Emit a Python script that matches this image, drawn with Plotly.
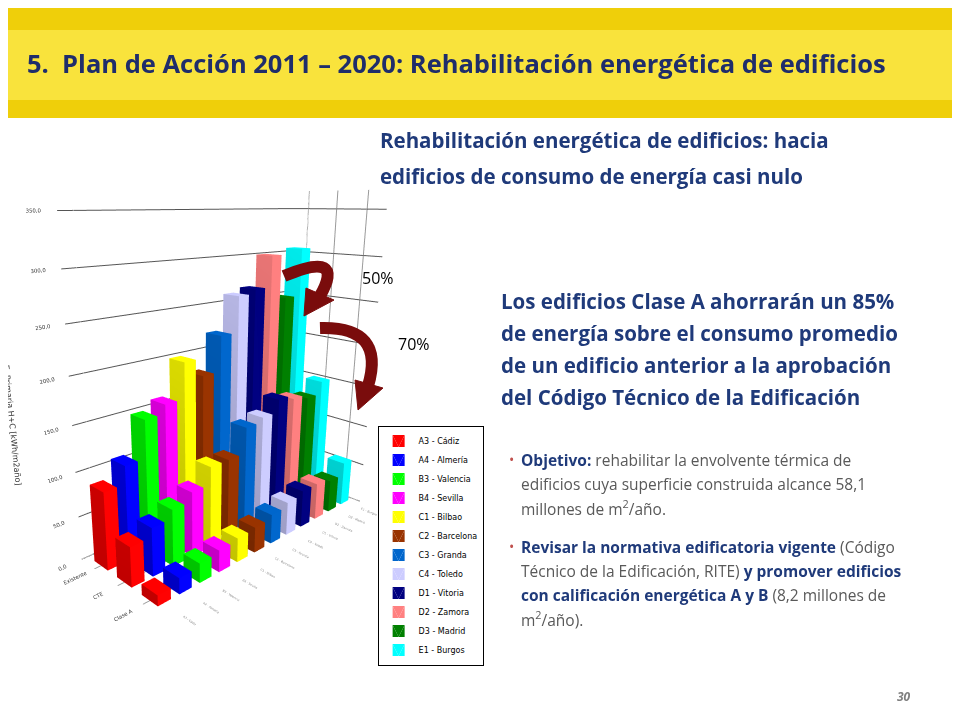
import plotly.graph_objects as go

scenarios = ["Existente", "CTE", "Clase A"]
cities = ["A3 - Cádiz", "A4 - Almería", "B3 - Valencia", "B4 - Sevilla", "C1 - Bilbao",
          "C2 - Barcelona", "C3 - Granda", "C4 - Toledo", "D1 - Vitoria", "D2 - Zamora",
          "D3 - Madrid", "E1 - Burgos"]
colors = ["#FF0000", "#0000FF", "#00FF00", "#FF00FF", "#FFFF00", "#993300",
          "#0066CC", "#CCCCFF", "#000080", "#FF8080", "#008000", "#00FFFF"]
existente = [88, 108, 150, 160, 200, 180, 220, 260, 265, 300, 250, 305]
cte = [45, 55, 65, 75, 95, 95, 125, 130, 145, 140, 135, 150]
clase_a = [12, 18, 22, 25, 28, 30, 35, 40, 45, 45, 40, 55]
zticks = [0, 50, 100, 150, 200, 250, 300, 350]
zticktext = ["0,0", "50,0", "100,0", "150,0", "200,0", "250,0", "300,0", "350,0"]

W, H = 960, 720
def P(x, y):
    return x / W, 1 - y / H

fig = go.Figure()
series = [existente, cte, clase_a]
for j, city in enumerate(cities):
    xs, ys, zs, I, J, K = [], [], [], [], [], []
    for s, vals in enumerate(series):
        h = vals[j]
        x0, x1 = s - 0.3, s + 0.3
        y0, y1 = j - 0.3, j + 0.3
        b = len(xs)
        for (cx, cy, cz) in [(x0, y0, 0), (x1, y0, 0), (x1, y1, 0), (x0, y1, 0),
                             (x0, y0, h), (x1, y0, h), (x1, y1, h), (x0, y1, h)]:
            xs.append(cx); ys.append(cy); zs.append(cz)
        faces = [(0, 1, 2), (0, 2, 3), (4, 5, 6), (4, 6, 7), (0, 1, 5), (0, 5, 4),
                 (1, 2, 6), (1, 6, 5), (2, 3, 7), (2, 7, 6), (3, 0, 4), (3, 4, 7)]
        for f in faces:
            I.append(b + f[0]); J.append(b + f[1]); K.append(b + f[2])
    fig.add_trace(go.Mesh3d(x=xs, y=ys, z=zs, i=I, j=J, k=K, color=colors[j],
                            flatshading=True, name=city, showlegend=True,
                            lighting=dict(ambient=0.6, diffuse=0.8, specular=0.1),
                            lightposition=dict(x=300, y=-200, z=300),
                            hoverinfo="name+z"))

axfont = dict(family="DejaVu Sans", size=8, color="#333333")
fig.update_layout(
    width=W, height=H, margin=dict(l=0, r=0, t=0, b=0),
    paper_bgcolor="white", font=dict(family="Open Sans"),
    scene=dict(
        domain=dict(x=[0.0, 0.40], y=[0.1, 0.8]),
        xaxis=dict(tickvals=[0, 1, 2], ticktext=scenarios, title="", tickfont=axfont,
                   showbackground=False, gridcolor="#999", range=[-0.6, 2.6]),
        yaxis=dict(tickvals=list(range(12)), ticktext=cities, title="",
                   tickfont=dict(family="DejaVu Sans", size=6, color="#888"),
                   showbackground=False, showgrid=False, range=[-0.6, 11.6]),
        zaxis=dict(tickvals=zticks, ticktext=zticktext, range=[0, 370],
                   title=dict(text="Consumo E. Primaria H+C [kWh/m2año]", font=axfont),
                   tickfont=axfont, showbackground=False, gridcolor="#555"),
        aspectmode="manual", aspectratio=dict(x=0.45, y=1.15, z=1.3),
        camera=dict(eye=dict(x=1.5, y=-1.6, z=0.6), center=dict(x=-0.09, y=-0.1, z=-0.12)),
    ),
    legend=dict(x=0.385, y=0.42, xanchor="left", yanchor="top", bordercolor="black",
                borderwidth=1, font=dict(family="DejaVu Sans", size=8, color="black"),
                tracegroupgap=0, itemwidth=30),
)

shapes = []
x0, y1 = P(0, 0); x1, y0 = P(960, 110)
shapes.append(dict(type="rect", xref="paper", yref="paper", x0=x0, x1=x1, y0=y0, y1=y1,
                   fillcolor="#EFCF0A", line=dict(width=0), layer="below"))
a, b = P(0, 22); c, d = P(960, 92)
shapes.append(dict(type="rect", xref="paper", yref="paper", x0=a, x1=c, y0=d, y1=b,
                   fillcolor="#F9E33C", line=dict(width=0), layer="below"))

def path(points, close=False):
    s = ""
    for k, (cmd, pts) in enumerate(points):
        s += cmd + " " + " ".join("%.4f,%.4f" % P(*p) for p in pts) + " "
    return s + ("Z" if close else "")

dark = "#7A0C0C"
shapes.append(dict(type="path", xref="paper", yref="paper",
                   path=path([("M", [(276, 268)]), ("Q", [(338, 242), (312, 288)])]),
                   line=dict(color=dark, width=12)))
shapes.append(dict(type="path", xref="paper", yref="paper",
                   path=path([("M", [(298, 280)]), ("L", [(326, 292)]), ("L", [(296, 308)])], True),
                   fillcolor=dark, line=dict(color=dark, width=1)))
shapes.append(dict(type="path", xref="paper", yref="paper",
                   path=path([("M", [(312, 320)]), ("Q", [(378, 318), (360, 378)])]),
                   line=dict(color=dark, width=12)))
shapes.append(dict(type="path", xref="paper", yref="paper",
                   path=path([("M", [(347, 372)]), ("L", [(375, 380)]), ("L", [(350, 402)])], True),
                   fillcolor=dark, line=dict(color=dark, width=1)))
fig.update_layout(shapes=shapes)

blue = "#1F3A7A"
gray = "#595959"
def ann(x, y, text, size, color="black", xanchor="left", **kw):
    px, py = P(x, y)
    fig.add_annotation(x=px, y=py, xref="paper", yref="paper", text=text, showarrow=False,
                       xanchor=xanchor, yanchor="middle", borderpad=0,
                       font=dict(size=size, color=color, family=kw.pop("family", "Open Sans")),
                       align="left", **kw)

ann(18, 55, "<b>5.  Plan de Acción 2011 – 2020: Rehabilitación energética de edificios</b>", 25.5, "#1F2D6B")
ann(371, 132, "<b>Rehabilitación energética de edificios: hacia</b>", 20.5, blue)
ann(371, 168, "<b>edificios de consumo de energía casi nulo</b>", 20.5, blue)
for k, line in enumerate(["Los edificios Clase A ahorrarán un 85%",
                          "de energía sobre el consumo promedio",
                          "de un edificio anterior a la aprobación",
                          "del Código Técnico de la Edificación"]):
    ann(492, 293 + k * 32, "<b>" + line + "</b>", 20.5, blue)
ann(353, 270, "50%", 16)
ann(389, 336, "70%", 16)

b1 = ["<b>Objetivo:</b> <span style='color:%s'>rehabilitar la envolvente térmica de</span>" % gray,
      "<span style='color:%s'>edificios cuya superficie construida alcance 58,1</span>" % gray,
      "<span style='color:%s'>millones de m<sup>2</sup>/año.</span>" % gray]
b2 = ["<b>Revisar la normativa edificatoria vigente</b> <span style='color:%s'>(Código</span>" % gray,
      "<span style='color:%s'>Técnico de la Edificación, RITE)</span> <b>y promover edificios</b>" % gray,
      "<b>con calificación energética A y B</b> <span style='color:%s'>(8,2 millones de</span>" % gray,
      "<span style='color:%s'>m<sup>2</sup>/año).</span>" % gray]
for k, t in enumerate(b1):
    ann(512, 452 + k * 24, t, 15.5, blue)
for k, t in enumerate(b2):
    ann(512, 539 + k * 24, t, 15.5, blue)
ann(500, 451, "•", 14, "#C0504D")
ann(500, 538, "•", 14, "#C0504D")
ann(888, 688, "<i><b>30</b></i>", 12, "#7F7F7F")

fig.write_html("out.html")
